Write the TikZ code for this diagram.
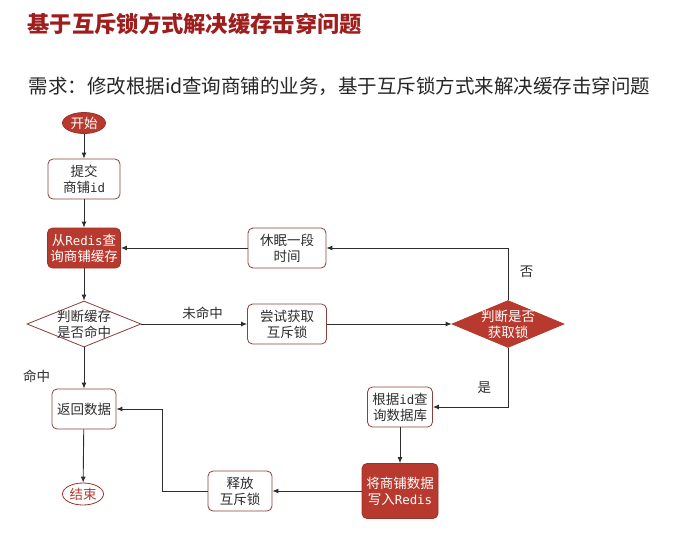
\documentclass[tikz,border=0pt]{standalone}
\usepackage{fontspec}
\setmainfont{Noto Sans CJK SC}
\newfontfamily\codefont{DejaVu Sans Mono}[Scale=0.92]
\usepackage{xcolor}
\usepackage{tikz}
\usetikzlibrary{arrows.meta, positioning, calc, shapes.geometric}

\definecolor{boxred}{RGB}{184,58,46}
\definecolor{titlered}{RGB}{158,30,30}
\definecolor{edgered}{RGB}{140,64,60}
\definecolor{inkgray}{RGB}{45,45,45}

\begin{document}
\begin{tikzpicture}[
			x=1pt, y=-1pt,
			font=\fontsize{13.5}{16}\selectfont,
			box/.style={draw=edgered,rounded corners=5pt,fill=white,text=inkgray,align=center,minimum height=40pt,inner sep=2pt,line width=0.8pt},
			redbox/.style={box,draw=boxred!85!black,fill=boxred,text=white},
			choice/.style={diamond,draw=edgered,fill=white,text=inkgray,align=center,minimum width=114pt,minimum height=46pt,inner sep=-12pt,line width=0.8pt},
			redchoice/.style={choice,draw=boxred,fill=boxred,text=white},
			term/.style={ellipse,draw=boxred!85!black,line width=0.8pt,inner sep=0pt,minimum width=43pt,minimum height=21pt},
			line/.style={draw=inkgray,line width=0.9pt,-{Latex[length=6pt,width=5pt]}},
			tag/.style={text=inkgray}
			]
			\useasboundingbox (0,0) rectangle (676,541);
			
			\node[anchor=west,text=titlered,font=\fontsize{22.3}{25}\selectfont\bfseries] (title) at (24,24) {基于互斥锁方式解决缓存击穿问题};
			\node[anchor=west,text=black!85,font=\fontsize{19.5}{22}\selectfont] (need) at (25,86) {需求：修改根据id查询商铺的业务，基于互斥锁方式来解决缓存击穿问题};
			
			\node[term,fill=boxred,text=white] (start) at (84,123) {开始};
			\node[box,minimum width=72pt] (submit) at (84,179) {提交\\商铺{\codefont id}};
			\node[redbox,minimum width=73pt] (query) at (84,248) {从{\codefont Redis}查\\询商铺缓存};
			\node[box,minimum width=78pt] (sleep) at (287,248) {休眠一段\\时间};
			\node[choice] (hit) at (84,324) {判断缓存\\是否命中};
			\node[box,minimum width=79pt] (trylock) at (287,324) {尝试获取\\互斥锁};
			\node[redchoice,minimum width=112pt,minimum height=47pt] (gotlock) at (508,324) {判断是否\\获取锁};
			\node[box,minimum width=64pt] (ret) at (84,409) {返回数据};
			\node[box,minimum width=65pt] (db) at (400,407) {根据{\codefont id}查\\询数据库};
			\node[redbox,minimum width=76pt,minimum height=55pt] (write) at (400,491) {将商铺数据\\写入{\codefont Redis}};
			\node[box,minimum width=64pt] (release) at (240,491) {释放\\互斥锁};
			\node[term,fill=white,text=boxred,minimum width=41pt,minimum height=22pt] (stop) at (83,494) {结束};
			\coordinate (turn) at (162,491);
			
			\draw[line] (start) -- (submit);
			\draw[line] (submit) -- (query);
			\draw[line] (query) -- (hit);
			\draw[line] (hit) -- (trylock) node[tag,pos=0.58,above=1pt] {未命中};
			\draw[line] (hit) -- (ret) node[tag,pos=0.7,left=30pt] {命中};
			\draw[line] (trylock) -- (gotlock);
			\draw[line] (gotlock.north) |- (sleep) node[tag,pos=0.27,right=8pt] {否};
			\draw[line] (sleep) -- (query);
			\draw[line] (gotlock.south) |- (db) node[tag,pos=0.34,left=13pt] {是};
			\draw[line] (db) -- (write);
			\draw[line] (write) -- (release);
			\draw[line] (release) -- (turn) |- (ret);
			\draw[line] (ret) -- (stop);
		\end{tikzpicture}
\end{document}
